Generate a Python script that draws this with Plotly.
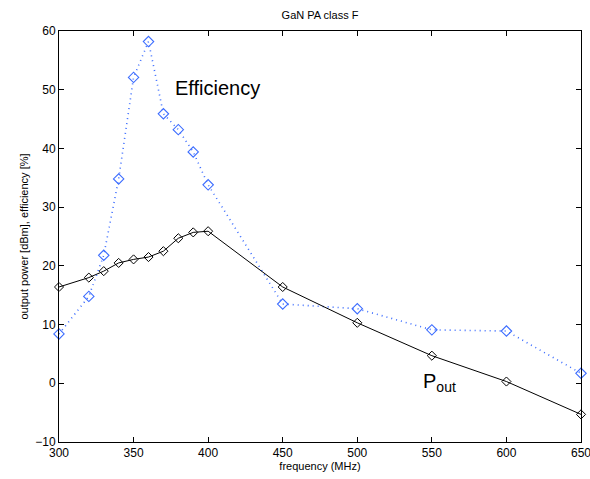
import plotly.graph_objects as go

freq = [300, 320, 330, 340, 350, 360, 370, 380, 390, 400, 450, 500, 550, 600, 650]
efficiency = [8.4, 14.8, 21.8, 34.8, 52.1, 58.2, 45.9, 43.2, 39.4, 33.8, 13.5, 12.7, 9.1, 8.9, 1.7]
pout = [16.4, 18.0, 19.1, 20.5, 21.1, 21.5, 22.5, 24.7, 25.7, 25.9, 16.4, 10.3, 4.7, 0.3, -5.3]

x_ticks = [300, 350, 400, 450, 500, 550, 600, 650]
y_ticks = [-10, 0, 10, 20, 30, 40, 50, 60]

fig = go.Figure()
fig.add_trace(go.Scatter(
    x=freq, y=efficiency, mode="lines+markers",
    line=dict(color="#3b6cff", width=1.6, dash="1px,4px"),
    marker=dict(symbol="diamond-open", size=8, color="#3b6cff", line=dict(width=1.1)),
    showlegend=False, cliponaxis=False))
fig.add_trace(go.Scatter(
    x=freq, y=pout, mode="lines+markers",
    line=dict(color="black", width=1),
    marker=dict(symbol="diamond-open", size=7, color="black", line=dict(width=1)),
    showlegend=False, cliponaxis=False))

fig.add_annotation(x=406.5, y=50.3, text="Efficiency", showarrow=False,
                   font=dict(size=20, color="black", family="Liberation Sans, Arial"))
fig.add_annotation(x=555, y=0.2, text="P<sub>out</sub>", showarrow=False,
                   font=dict(size=20, color="black", family="Liberation Sans, Arial"))

axis_common = dict(showline=True, linecolor="black", linewidth=1, mirror="ticks",
                   ticks="inside", ticklen=5, tickcolor="black", showgrid=False,
                   zeroline=False, tickfont=dict(size=12, color="black"),
                   ticklabeloverflow="allow")

fig.update_layout(
    width=590, height=479,
    margin=dict(l=59, r=9, t=31, b=37),
    paper_bgcolor="white", plot_bgcolor="white",
    font=dict(family="Liberation Sans, Arial", color="black"),
    title=dict(text="GaN PA class F", x=0.5424, xanchor="center", y=0.9687, yanchor="middle",
               font=dict(size=11, color="black")),
    xaxis=dict(range=[300, 650], tickvals=x_ticks,
               title=dict(text="frequency (MHz)", font=dict(size=11), standoff=2),
               automargin=False, **axis_common),
    yaxis=dict(range=[-10, 60], tickvals=y_ticks,
               title=dict(text="output power [dBm], efficiency [%]", font=dict(size=11), standoff=4),
               automargin=False, **axis_common),
)

# remove the browser's default 8px body margin so the figure fills the window
fig.write_html("out.html", config={"displayModeBar": False},
               post_script="document.body.style.margin='0px';")
